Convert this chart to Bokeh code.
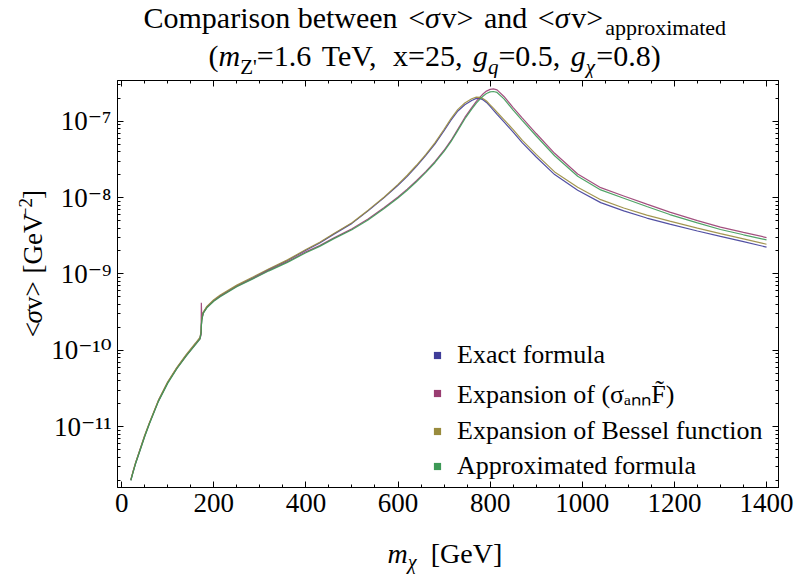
import math
from bokeh.plotting import figure
from bokeh.layouts import column, row
from bokeh.models import (Range1d, LinearAxis, LogAxis, FixedTicker, CustomJSTickFormatter,
                          Label, Legend, LegendItem, ColumnDataSource)
from bokeh.embed import file_html
from bokeh.resources import INLINE

# ---------------- data ----------------
mx = [20, 25, 30, 40, 50, 60, 80, 100, 120, 140,
      160, 170, 172.5, 173, 174, 177, 185, 200, 214, 250,
      286, 320, 360, 400, 430, 460, 500, 535, 570, 600,
      620, 640, 660, 680, 700, 715, 730, 745, 760, 770,
      778, 785, 792, 800, 807, 815, 830, 850, 870, 900,
      940, 990, 1040, 1090, 1140, 1190, 1250, 1300, 1350, 1400]

exact = [2.0e-12, 2.6e-12, 3.3e-12, 5.0e-12, 7.6e-12, 1.1e-11, 2.2e-11, 3.8e-11, 5.9e-11, 8.6e-11,
         1.22e-10, 1.45e-10, 1.75e-10, 2.1e-10, 2.5e-10, 3.1e-10, 3.7e-10, 4.5e-10, 5.2e-10, 7.0e-10,
         9.0e-10, 1.15e-9, 1.5e-9, 2.05e-9, 2.55e-9, 3.3e-9, 4.6e-9, 6.7e-9, 1.0e-8, 1.45e-8,
         1.9e-8, 2.57e-8, 3.55e-8, 5.0e-8, 7.5e-8, 1.03e-7, 1.36e-7, 1.64e-7, 1.87e-7, 1.99e-7,
         1.98e-7, 1.9e-7, 1.76e-7, 1.56e-7, 1.4e-7, 1.23e-7, 9.8e-8, 7.2e-8, 5.2e-8, 3.4e-8,
         2.0e-8, 1.25e-8, 8.6e-9, 6.7e-9, 5.4e-9, 4.5e-9, 3.65e-9, 3.1e-9, 2.65e-9, 2.25e-9]

exp_sigmaF = [2.0e-12, 2.6e-12, 3.3e-12, 5.0e-12, 7.5e-12, 1.1e-11, 2.2e-11, 3.8e-11, 5.85e-11, 8.5e-11,
              1.2e-10, 1.42e-10, 1.6e-10, 4.2e-10, 2.6e-10, 3.1e-10, 3.65e-10, 4.45e-10, 5.1e-10, 6.9e-10,
              8.8e-10, 1.12e-9, 1.45e-9, 1.95e-9, 2.35e-9, 2.95e-9, 3.9e-9, 5.25e-9, 7.4e-9, 1.02e-8,
              1.29e-8, 1.66e-8, 2.19e-8, 2.95e-8, 4.17e-8, 5.6e-8, 7.9e-8, 1.12e-7, 1.51e-7, 1.82e-7,
              2.07e-7, 2.29e-7, 2.48e-7, 2.61e-7, 2.65e-7, 2.57e-7, 2.11e-7, 1.51e-7, 1.1e-7, 6.9e-8,
              3.8e-8, 2.04e-8, 1.35e-8, 1.05e-8, 8.2e-9, 6.45e-9, 5.0e-9, 4.1e-9, 3.5e-9, 3.0e-9]

exp_bessel = [2.04e-12, 2.65e-12, 3.37e-12, 5.1e-12, 7.75e-12, 1.12e-11, 2.24e-11, 3.88e-11, 6.0e-11, 8.8e-11,
              1.24e-10, 1.48e-10, 1.78e-10, 2.14e-10, 2.55e-10, 3.16e-10, 3.77e-10, 4.6e-10, 5.3e-10, 7.15e-10,
              9.2e-10, 1.17e-9, 1.53e-9, 2.09e-9, 2.6e-9, 3.37e-9, 4.7e-9, 6.85e-9, 1.02e-8, 1.49e-8,
              1.96e-8, 2.65e-8, 3.65e-8, 5.2e-8, 7.85e-8, 1.08e-7, 1.43e-7, 1.73e-7, 1.97e-7, 2.07e-7,
              2.05e-7, 1.97e-7, 1.84e-7, 1.64e-7, 1.48e-7, 1.31e-7, 1.05e-7, 7.75e-8, 5.6e-8, 3.68e-8,
              2.17e-8, 1.37e-8, 9.4e-9, 7.3e-9, 5.9e-9, 4.92e-9, 3.98e-9, 3.38e-9, 2.88e-9, 2.45e-9]

approx = [1.98e-12, 2.55e-12, 3.25e-12, 4.9e-12, 7.4e-12, 1.08e-11, 2.15e-11, 3.7e-11, 5.75e-11, 8.4e-11,
          1.18e-10, 1.4e-10, 1.7e-10, 2.05e-10, 2.45e-10, 3.05e-10, 3.6e-10, 4.4e-10, 5.05e-10, 6.8e-10,
          8.7e-10, 1.1e-9, 1.42e-9, 1.9e-9, 2.3e-9, 2.88e-9, 3.8e-9, 5.1e-9, 7.2e-9, 9.9e-9,
          1.25e-8, 1.61e-8, 2.12e-8, 2.86e-8, 4.04e-8, 5.4e-8, 7.6e-8, 1.07e-7, 1.44e-7, 1.72e-7,
          1.95e-7, 2.14e-7, 2.31e-7, 2.42e-7, 2.45e-7, 2.38e-7, 1.96e-7, 1.4e-7, 1.02e-7, 6.4e-8,
          3.53e-8, 1.9e-8, 1.26e-8, 9.8e-9, 7.65e-9, 6.0e-9, 4.66e-9, 3.82e-9, 3.26e-9, 2.8e-9]

series_cols = ["exact", "sf", "bes", "app"]
series_names = ["Exact formula", "Expansion of (σₐₙₙF̃)",
                "Expansion of Bessel function", "Approximated formula"]
series_colors = ["#3F3D99", "#993D71", "#998B3D", "#3D9956"]

x_major = [0, 200, 400, 600, 800, 1000, 1200, 1400]
x_minor = [50, 100, 150, 250, 300, 350, 450, 500, 550, 650, 700, 750, 850, 900, 950,
           1050, 1100, 1150, 1250, 1300, 1350]
y_major = [1e-11, 1e-10, 1e-9, 1e-8, 1e-7]
y_major_labels = ["10⁻¹¹", "10⁻¹⁰", "10⁻⁹", "10⁻⁸", "10⁻⁷"]
y_minor_mult = [2, 3, 4, 5, 6, 7, 8, 9]
y_minor_decades = [-12, -11, -10, -9, -8, -7]

# ---------------- geometry (canvas pixels) ----------------
W, H = 796, 574
FL, FR, FT, FB = 117, 778, 80, 487      # frame of the plot
TOP_H = 78                               # title strip
YL_W = 48                                # y-label strip
MID_H = 450                              # plot row
BOT_H = H - TOP_H - MID_H                # x-label strip
FONT = "Liberation Serif"
TICKFONT = "Liberation Serif, DejaVu Serif"
BASE_SHIFT = 0.33                        # label anchor correction (fraction of font size)


def blank_fig(w, h):
    f = figure(width=w, height=h, x_range=Range1d(0, w), y_range=Range1d(0, h),
               x_axis_location=None, y_axis_location=None, title=None,
               output_backend="svg", toolbar_location=None,
               min_border=0, min_border_left=0, min_border_right=0,
               min_border_top=0, min_border_bottom=0)
    f.grid.grid_line_color = None
    f.grid.visible = False
    f.outline_line_color = None
    f.background_fill_color = "white"
    f.border_fill_color = "white"
    return f


title_fig = blank_fig(W, TOP_H)
ylab_fig = blank_fig(YL_W, MID_H)
xlab_fig = blank_fig(W, BOT_H)

p = figure(width=W - YL_W, height=MID_H, x_range=Range1d(-9, 1426),
           y_range=Range1d(10 ** -11.795, 10 ** -6.467),
           y_axis_type="log", x_axis_location=None, y_axis_location=None, title=None,
           output_backend="svg", toolbar_location=None,
           min_border_left=FL - YL_W, min_border_right=W - FR,
           min_border_top=FT - TOP_H, min_border_bottom=TOP_H + MID_H - FB)
p.grid.grid_line_color = None
p.outline_line_color = "black"
p.background_fill_color = "white"
p.border_fill_color = "white"

xt = FixedTicker(ticks=x_major, minor_ticks=x_minor)
yt = FixedTicker(ticks=y_major,
                 minor_ticks=[m * 10.0 ** e for e in y_minor_decades for m in y_minor_mult])
yfmt = CustomJSTickFormatter(args=dict(vals=y_major, labels=y_major_labels), code="""
for (let i = 0; i < vals.length; i++) {
  if (Math.abs(Math.log10(tick) - Math.log10(vals[i])) < 1e-6) return labels[i];
}
return '';
""")


def style(ax, show):
    ax.major_tick_in = 6
    ax.major_tick_out = 0
    ax.minor_tick_in = 3
    ax.minor_tick_out = 0
    ax.major_tick_line_color = "black"
    ax.minor_tick_line_color = "black"
    ax.axis_line_color = "black"
    ax.major_label_text_font = TICKFONT
    ax.major_label_text_color = "black"
    if show:
        ax.major_label_text_font_size = "27px"
        ax.major_label_standoff = 6
    else:
        ax.major_label_text_font_size = "0px"
        ax.major_label_standoff = 0


bx = LinearAxis(ticker=xt)
style(bx, True)
p.add_layout(bx, "below")
tx = LinearAxis(ticker=xt, formatter=CustomJSTickFormatter(code="return '';"))
style(tx, False)
p.add_layout(tx, "above")
ly = LogAxis(ticker=yt, formatter=yfmt)
style(ly, True)
p.add_layout(ly, "left")
ry = LogAxis(ticker=yt, formatter=CustomJSTickFormatter(code="return '';"))
style(ry, False)
p.add_layout(ry, "right")

# ---------------- curves ----------------
src = ColumnDataSource(dict(mx=mx, exact=exact, sf=exp_sigmaF, bes=exp_bessel, app=approx))
for col, c in zip(series_cols, series_colors):
    p.line("mx", col, source=src, line_color=c, line_width=1.2, line_alpha=0.9)

# legend: square swatches (zero-size markers on the curves, only shown in the legend)
marks = [p.scatter("mx", col, source=src, size=0, marker="square", fill_color=c, line_color=None)
         for col, c in zip(series_cols, series_colors)]
legend = Legend(items=[LegendItem(label=n, renderers=[r]) for n, r in zip(series_names, marks)],
                location=(428 - FL, FB - 481), orientation="vertical",
                glyph_width=18, glyph_height=30, label_height=30, label_standoff=11,
                spacing=5, padding=0, margin=0,
                label_text_font=FONT, label_text_font_size="26px", label_text_color="black",
                border_line_color=None, background_fill_alpha=0)
p.add_layout(legend)

# ---------------- composed texts ----------------
REG = {' ': 250, '(': 333, ')': 333, ',': 250, '.': 250, '<': 564, '>': 564, '=': 564,
       '[': 333, ']': 333, "'": 180, '−': 564, 'σ': 550, 'χ': 500,
       'A': 722, 'C': 667, 'E': 611, 'F': 556, 'G': 722, 'T': 611, 'V': 722, 'Z': 611,
       'a': 444, 'b': 500, 'c': 444, 'd': 500, 'e': 444, 'f': 333, 'g': 500, 'h': 500,
       'i': 278, 'l': 278, 'm': 778, 'n': 500, 'o': 500, 'p': 500, 'q': 500, 'r': 333,
       's': 389, 't': 278, 'u': 500, 'v': 500, 'w': 722, 'x': 500, 'y': 500}
ITA = {'m': 722, 'g': 500, 'q': 500, 'σ': 550, 'χ': 500}


def tw(s, size, italic=False):
    tab = ITA if italic else REG
    return sum(tab.get(ch, REG.get(ch, 500)) for ch in s) * size / 1000.0


def put(fig, ox, oy, text, px, py, size, italic=False, angle=0.0):
    # (px, py): wanted baseline start in canvas pixels
    if angle == 0.0:
        py = py - BASE_SHIFT * size
    else:
        px = px - BASE_SHIFT * size
    fig.add_layout(Label(x=px - ox, y=fig.height - (py - oy), x_units="data", y_units="data",
                         text=text, text_font=FONT, text_font_size=f"{size}px",
                         text_font_style="italic" if italic else "normal",
                         text_color="black", text_baseline="alphabetic", text_align="left",
                         angle=angle))


def run(fig, ox, oy, pieces, x0, base):
    # pieces: (text, size, italic, dy, gap_after); space-only pieces only advance
    x = x0
    for t, s, it, dy, gap in pieces:
        if t.strip():
            put(fig, ox, oy, t, x, base + dy, s, it)
        x += tw(t, s, it) + gap


T, S = 30, 22
run(title_fig, 0, 0, [("Comparison between", T, False, 0, 0), (" ", T, False, 0, 3),
                      ("<", T, False, 0, 0), ("σ", T, True, 0, 0), ("v>", T, False, 0, 0),
                      (" ", T, False, 0, 3), ("and", T, False, 0, 0), (" ", T, False, 0, 3),
                      ("<", T, False, 0, 0), ("σ", T, True, 0, 0), ("v>", T, False, 0, 2),
                      ("approximated", S, False, 7, 0)], 143, 27)
run(title_fig, 0, 0, [("(", T, False, 0, 0), ("m", T, True, 0, 0), ("Z'", 21, False, 8, 0),
                      ("=1.6", T, False, 0, 0), (" ", T, False, 0, 3), ("TeV,", T, False, 0, 0),
                      (" ", T, False, 0, 3), ("x=25,", T, False, 0, 0), (" ", T, False, 0, 3),
                      ("g", T, True, 0, 0), ("q", 21, True, 8, 0), ("=0.5,", T, False, 0, 0),
                      (" ", T, False, 0, 3), ("g", T, True, 0, 0), ("χ", 21, True, 8, 0),
                      ("=0.8)", T, False, 0, 0)], 208, 65)

# x axis label
run(xlab_fig, 0, TOP_H + MID_H, [("m", 28, True, 0, 0), ("χ", 20, True, 6, 0),
                                 (" ", 28, False, 0, 6), ("[GeV]", 28, False, 0, 0)], 387, 562)

# y axis label (rotated, reads bottom to top)
ypieces = [("<", 27, False, 0, 0), ("σ", 27, True, 0, 0), ("v>", 27, False, 0, 0),
           (" ", 27, False, 0, 5), ("[GeV", 27, False, 0, 1), ("−2", 19, False, 10, 1),
           ("]", 27, False, 0, 0)]
ytot = sum(tw(t, s, it) + g for t, s, it, d, g in ypieces)
yy = 281 + ytot / 2.0
for t, s, it, d, g in ypieces:
    if t.strip():
        put(ylab_fig, 0, TOP_H, t, 41 - d, yy, s, it, angle=math.pi / 2)
    yy -= tw(t, s, it) + g

layout = column(title_fig, row(ylab_fig, p, spacing=0), xlab_fig, spacing=0)
open("out.html", "w").write(file_html(layout, INLINE))
